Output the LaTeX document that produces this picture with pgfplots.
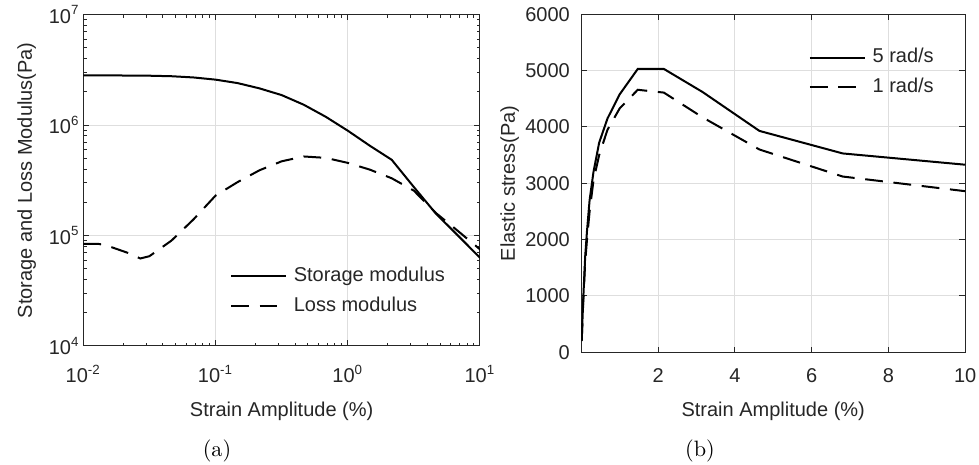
\documentclass[border=0pt]{standalone}
\usepackage{fontspec}
\usepackage{pgfplots}
\pgfplotsset{compat=1.18}
\newfontfamily\hv{Liberation Sans}
\definecolor{axgray}{gray}{0.15}
\definecolor{gridgray}{gray}{0.87}
\pgfplotsset{
  legend image code/.code={\draw[#1] (0pt,0pt) -- (24.75pt,0pt);},
  myax/.style={
    scale only axis, anchor=south west,
    font=\hv\fontsize{9}{10.8}\selectfont,
    axis line style={axgray, line width=0.45pt},
    every tick/.style={axgray, line width=0.45pt},
    major tick length=2.6pt, minor tick length=1.5pt,
    tick label style={text=axgray},
    label style={text=axgray},
    grid=major,
    major grid style={gridgray, line width=0.45pt},
    legend cell align=left,
    legend style={draw=none, fill=none, inner sep=0pt, outer sep=0pt,
      row sep=4.9pt, column sep=3.0pt,
      font=\hv\fontsize{9}{10.8}\selectfont, text=axgray,
      nodes={inner sep=0pt, text height=6.5pt, text depth=2pt}},
  },
  sol/.style={black, line width=0.9pt, solid},
  das/.style={black, line width=0.9pt, dash pattern=on 8pt off 4.8pt},
}
\begin{document}
\begin{tikzpicture}
\useasboundingbox (0,0) rectangle (440.55pt,208.8pt);
\begin{axis}[myax, at={(37.5pt,53.1pt)}, width=178.5pt, height=149.1pt,
  xmode=log, ymode=log, xmin=0.01, xmax=10, ymin=1e4, ymax=1e7,
  xtick={0.01,0.1,1,10},
  xticklabels={10\textsuperscript{-2},10\textsuperscript{-1},10\textsuperscript{0},10\textsuperscript{1}},
  ytick={1e4,1e5,1e6,1e7},
  yticklabels={10\textsuperscript{4},10\textsuperscript{5},10\textsuperscript{6},10\textsuperscript{7}},
  xticklabel style={anchor=base, yshift=-16.65pt},
  yticklabel style={anchor=east, inner sep=0pt, xshift=-1.5pt},
  xlabel={Strain Amplitude (\%)},
  ylabel={Storage and Loss Modulus(Pa)},
  xlabel style={at={(axis description cs:0.5,0)}, anchor=base, yshift=-31.5pt},
  ylabel style={at={(axis description cs:-0.130,0.5)}, anchor=base},
  legend style={at={(axis description cs:0.370,0.165)}, anchor=west},
]
\addplot[sol] coordinates {
 (0.01,2.82e6) (0.0147,2.82e6) (0.0215,2.81e6) (0.0316,2.80e6) (0.0464,2.77e6)
 (0.0681,2.70e6) (0.1,2.58e6) (0.147,2.40e6) (0.215,2.15e6) (0.316,1.87e6)
 (0.464,1.53e6) (0.681,1.19e6) (1,8.9e5) (1.47,6.5e5) (2.15,4.85e5)
 (3.16,2.75e5) (4.64,1.58e5) (6.81,1.0e5) (10,6.3e4)};
\addlegendentry{Storage modulus}
\addplot[das] coordinates {
 (0.01,8.4e4) (0.013,8.4e4) (0.0147,8.2e4) (0.0215,7.0e4) (0.027,6.2e4)
 (0.0316,6.5e4) (0.0464,9.0e4) (0.0681,1.4e5) (0.1,2.3e5) (0.147,3.05e5)
 (0.215,3.9e5) (0.316,4.7e5) (0.464,5.2e5) (0.681,5.05e5) (1,4.55e5)
 (1.47,3.95e5) (2.15,3.3e5) (3.16,2.55e5) (4.64,1.6e5) (6.81,1.1e5) (10,7.5e4)};
\addlegendentry{Loss modulus}
\end{axis}
\begin{axis}[myax, at={(261.6pt,50.27pt)}, width=172.7pt, height=152.1pt,
  xmin=0, xmax=10, ymin=0, ymax=6000,
  xtick={2,4,6,8,10}, xticklabels={2,4,6,8,10},
  ytick={0,1000,2000,3000,4000,5000,6000},
  yticklabels={0,1000,2000,3000,4000,5000,6000},
  xticklabel style={anchor=base, yshift=-13.8pt},
  yticklabel style={anchor=east, inner sep=0pt, xshift=-5pt},
  xlabel={Strain Amplitude (\%)},
  ylabel={Elastic stress(Pa)},
  xlabel style={at={(axis description cs:0.5,0)}, anchor=base, yshift=-28.7pt},
  ylabel style={at={(axis description cs:-0.173,0.5)}, anchor=base},
  legend style={at={(axis description cs:0.593,0.828)}, anchor=west},
]
\addplot[sol] coordinates {
 (0.01,215) (0.0464,900) (0.1,1700) (0.147,2150) (0.215,2700) (0.316,3200)
 (0.464,3720) (0.681,4150) (1,4580) (1.47,5030) (2.15,5030) (3.16,4620)
 (4.64,3930) (6.81,3530) (10,3330)};
\addlegendentry{5 rad/s}
\addplot[das] coordinates {
 (0.01,200) (0.0464,850) (0.1,1600) (0.147,2000) (0.215,2500) (0.316,3050)
 (0.464,3500) (0.681,3950) (1,4330) (1.47,4660) (2.15,4610) (3.16,4170)
 (4.64,3600) (6.81,3120) (10,2860)};
\addlegendentry{1 rad/s}
\end{axis}
\node[font=\fontsize{10}{12}\selectfont, anchor=base] at (97.65pt,3.6pt) {(a)};
\node[font=\fontsize{10}{12}\selectfont, anchor=base] at (315pt,3.6pt) {(b)};
\end{tikzpicture}
\end{document}
